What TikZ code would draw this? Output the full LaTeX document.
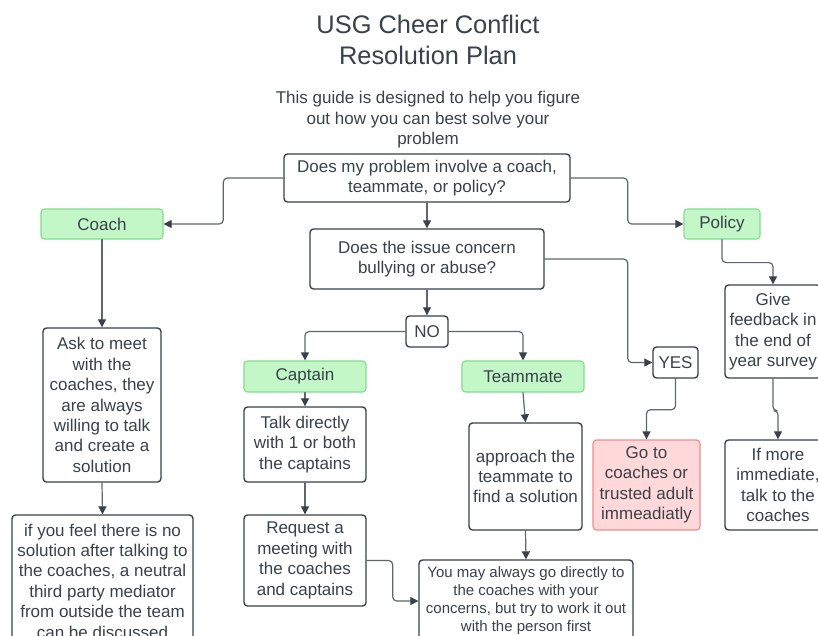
\documentclass[tikz,border=0pt]{standalone}
\usepackage{fontspec}
\setmainfont{Liberation Sans}
\usetikzlibrary{arrows.meta}
\definecolor{ink}{HTML}{3A414A}
\definecolor{wire}{HTML}{5F6670}
\definecolor{greenfill}{HTML}{C3F7C8}
\definecolor{greenline}{HTML}{82DD8C}
\definecolor{redfill}{HTML}{FFD9D9}
\definecolor{redline}{HTML}{F28B8B}
\begin{document}
\begin{tikzpicture}[x=1pt, y=-1pt, line join=round, line cap=round, >={Triangle[length=8pt,width=8pt]},
		font=\fontsize{17}{20.4}\selectfont, text=ink,
		box/.style={draw=ink, line width=1.4pt, rounded corners=3.5pt, align=center, inner sep=0pt},
		topic/.style={box, draw=greenline, fill=greenfill, line width=1.2pt},
		alarm/.style={box, draw=redline, fill=redfill, line width=1.2pt},
		link/.style={->, draw=wire, line width=1.2pt, rounded corners=4pt, arrows={-{Triangle[length=8pt,width=8pt,color=ink]}}}]
		\fill[white] (0,0) rectangle (818,635);
		\useasboundingbox (0,0) rectangle (818,635);
		\node[align=center, font=\fontsize{25.4}{31}\selectfont] (title) at (428,39.5) {USG Cheer Conflict\\Resolution Plan};
		\node[align=center] (guide) at (428,120) {This guide is designed to help you figure\\out how you can best solve your\\problem};
		\node[box, minimum width=286pt, minimum height=48pt] (q1) at (427,178) {Does my problem involve a coach,\\teammate, or policy?};
		\node[topic, minimum width=122pt, minimum height=30pt] (coach) at (102,224) {Coach};
		\node[topic, minimum width=76pt, minimum height=30pt] (policy) at (722,224) {Policy};
		\node[box, minimum width=234pt, minimum height=60pt] (q2) at (427,259) {Does the issue concern\\bullying or abuse?};
		\node[box, minimum width=42pt, minimum height=31pt] (no) at (427,331.5) {NO};
		\node[box, minimum width=45pt, minimum height=31pt] (yes) at (675.5,362.5) {YES};
		\node[topic, minimum width=122pt, minimum height=31pt] (captain) at (305,376.5) {Captain};
		\node[topic, minimum width=122pt, minimum height=31pt] (teammate) at (523,376.5) {Teammate};
		\node[box, minimum width=118pt, minimum height=154pt] (ask) at (102,405) {Ask to meet\\with the\\coaches, they\\are always\\willing to talk\\and create a\\solution};
		\node[box, minimum width=96pt, minimum height=93pt] (give) at (773,331.5) {Give\\feedback in\\the end of\\year survey};
		\node[box, minimum width=122pt, minimum height=75pt] (talk) at (305,444.5) {Talk directly\\with 1 or both\\the captains};
		\node[box, minimum width=113pt, minimum height=107pt] (approach) at (525.5,476.5) {approach the\\teammate to\\find a solution};
		\node[alarm, minimum width=107pt, minimum height=90pt] (goto) at (646.5,485) {Go to\\coaches or\\trusted adult\\immeadiatly};
		\node[box, minimum width=106pt, minimum height=90pt] (ifmore) at (778,485) {If more\\immediate,\\talk to the\\coaches};
		\node[box, minimum width=181pt, minimum height=132pt] (mediator) at (102.5,581) {if you feel there is no\\solution after talking to\\the coaches, a neutral\\third party mediator\\from outside the team\\can be discussed};
		\node[box, minimum width=122pt, minimum height=91pt] (request) at (305,560.5) {Request a\\meeting with\\the coaches\\and captains};
		\node[box, minimum width=214pt, minimum height=82pt, font=\fontsize{15}{18}\selectfont] (always) at (526,601) {You may always go directly to\\the coaches with your\\concerns, but try to work it out\\with the person first};
		% connectors
		\draw[link] (q1.west) -- ++(-60,0) |- (coach.east);
		\draw[link] (q1.south) -- (q2.north);
		\draw[link] (q1.east) -- ++(57,0) |- (policy.west);
		\draw[link] (coach.south) -- (ask.north);
		\draw[link] (policy.south) -- ++(0,23) -| (give.north);
		\draw[link] (q2.south) -- (no.north);
		\draw[link] (q2.east) -- ++(83,0) |- (yes.west);
		\draw[link] (no.west) -| (captain.north);
		\draw[link] (no.east) -| (teammate.north);
		\draw[link] (yes.south) -- ++(0,31) -| (goto.north);
		\draw[link] (give.south) -- ++(0,32) -| (ifmore.north);
		\draw[link] (captain.south) -- (talk.north);
		\draw[link] (talk.south) -- (request.north);
		\draw[link] (teammate.south) -- (approach.north);
		\draw[link] (request.east) -- ++(26,0) |- (always.west);
		\draw[link] (approach.south) -- (always.north);
		\draw[link] (ask.south) -- (mediator.north);
	\end{tikzpicture}
\end{document}
